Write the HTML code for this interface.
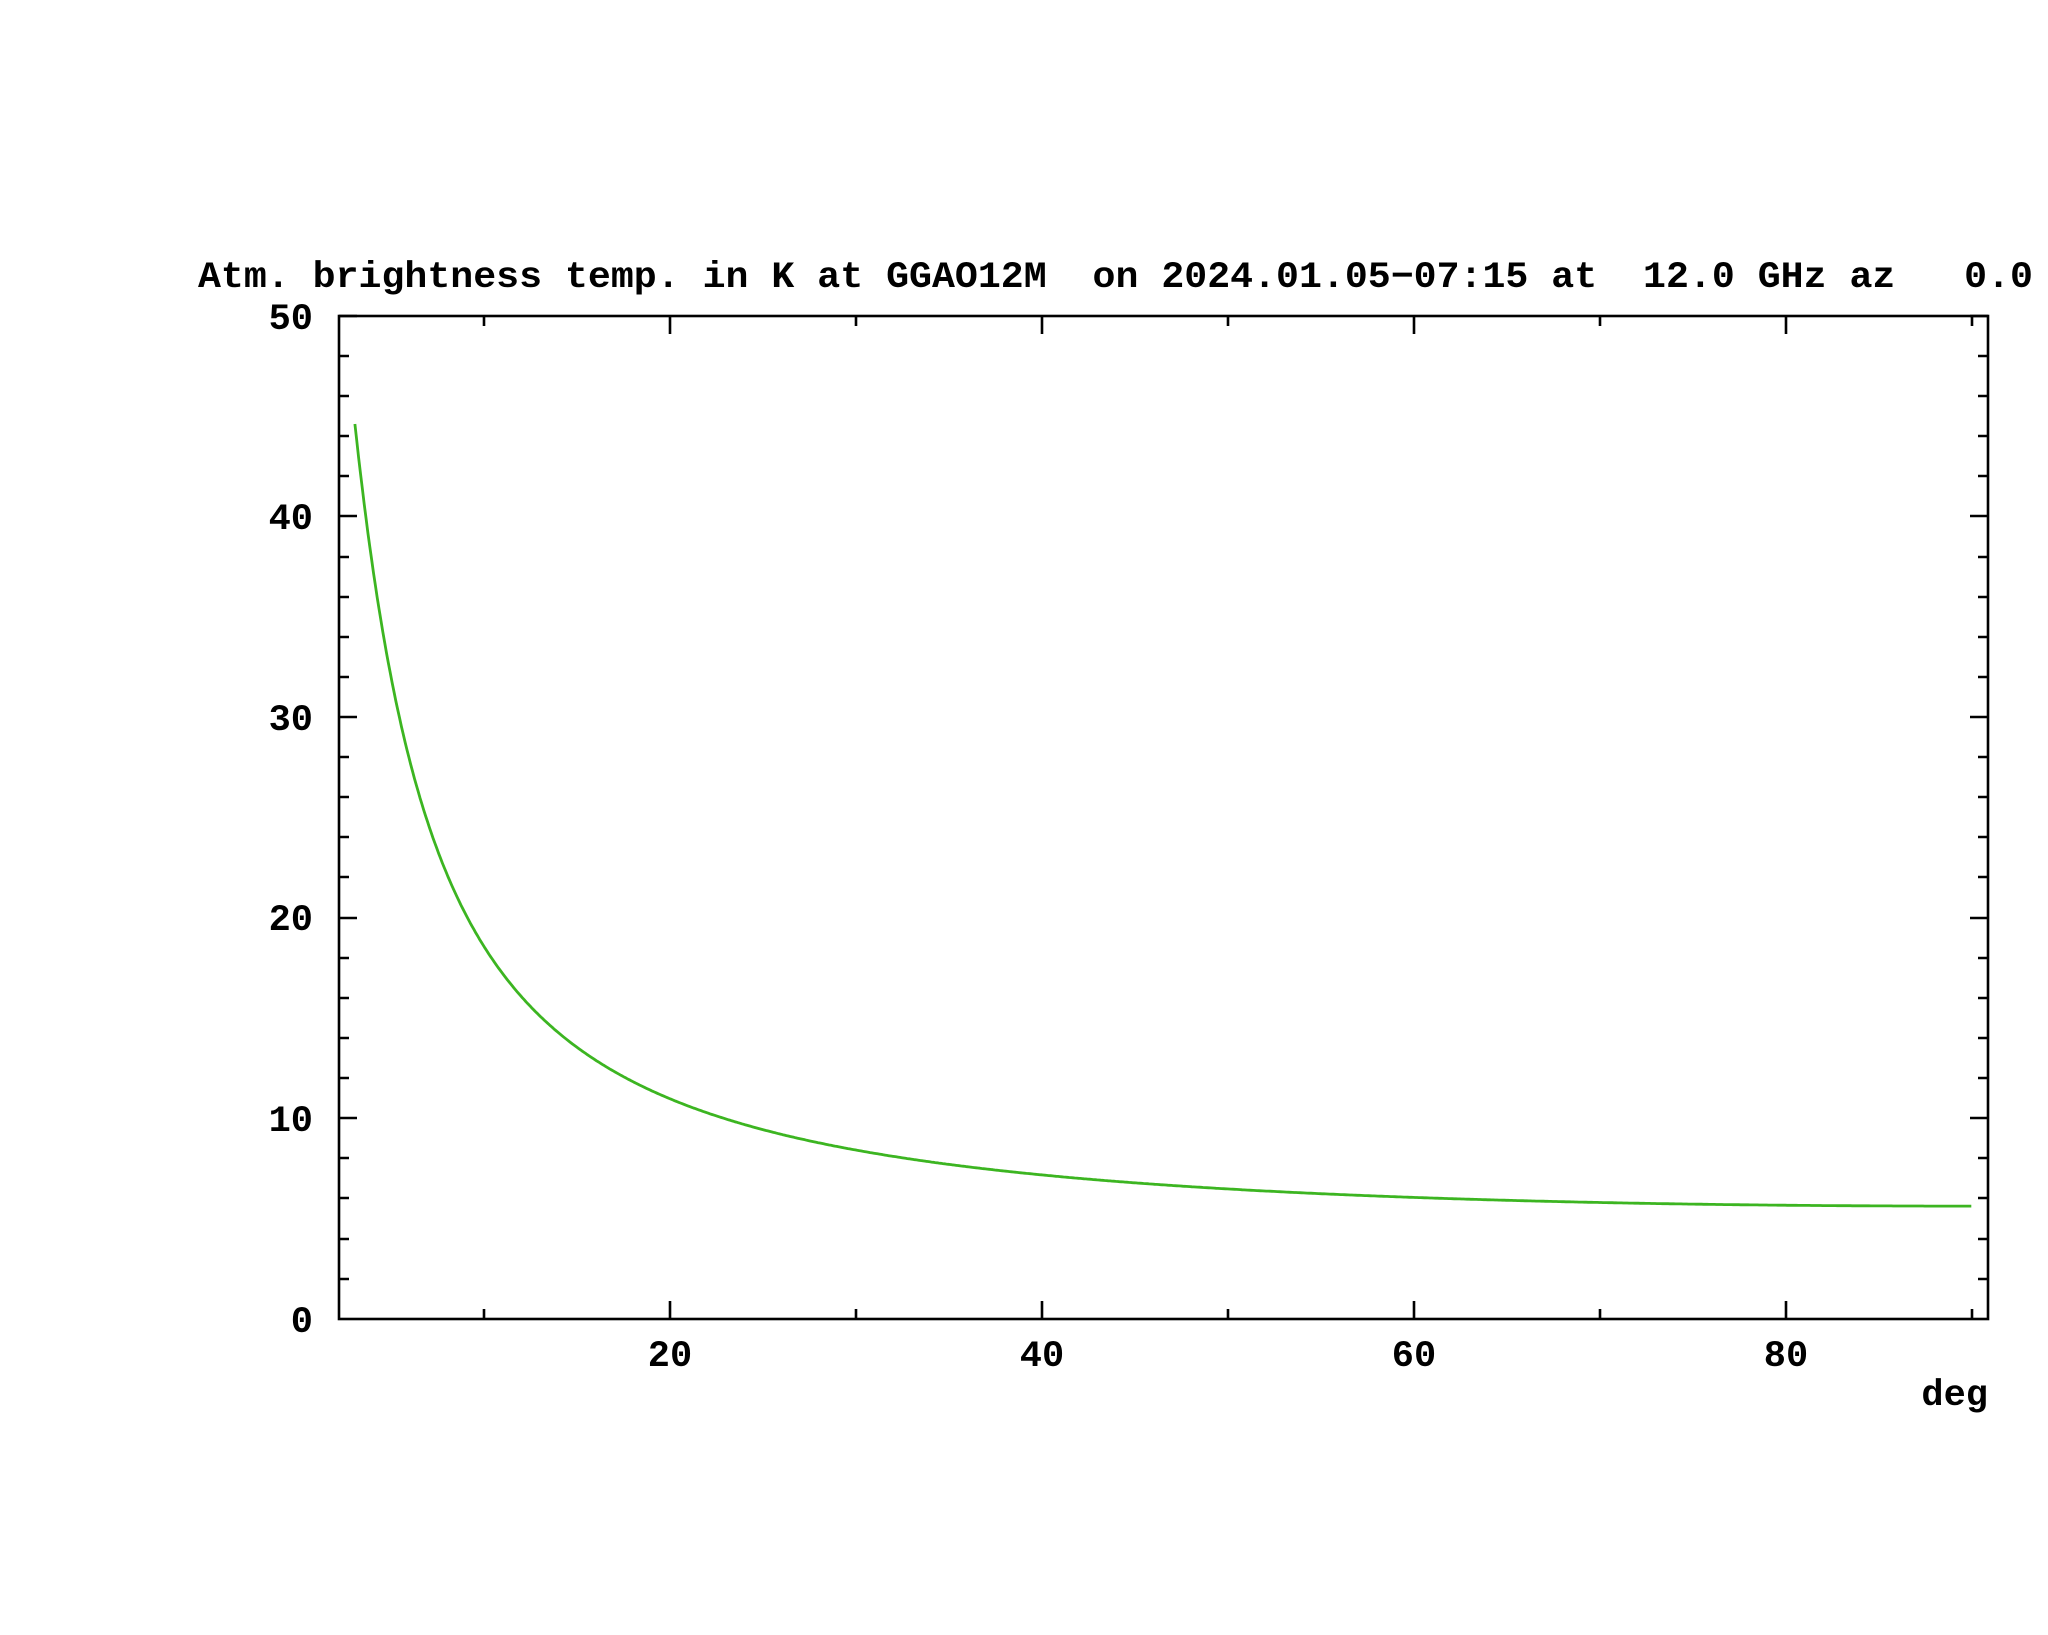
<!DOCTYPE html>
<html><head><meta charset="utf-8"><style>html,body{margin:0;padding:0;background:#fff;}svg{display:block}</style></head>
<body>
<svg width="2048" height="1635" viewBox="0 0 2048 1635" xmlns="http://www.w3.org/2000/svg">
<rect width="2048" height="1635" fill="#fff"/>
<g font-family="'Liberation Mono', monospace" font-size="37" font-weight="bold" fill="#000">
<text x="198" y="287" textLength="1835" lengthAdjust="spacingAndGlyphs" style="white-space:pre" xml:space="preserve">Atm. brightness temp. in K at GGAO12M  on 2024.01.05−07:15 at  12.0 GHz az   0.0</text>
<g text-anchor="end">
<text x="313" y="329">50</text>
<text x="313" y="529">40</text>
<text x="313" y="730">30</text>
<text x="313" y="930">20</text>
<text x="313" y="1131">10</text>
<text x="313" y="1332">0</text>
</g>
<g text-anchor="middle">
<text x="670" y="1366">20</text>
<text x="1042" y="1366">40</text>
<text x="1414" y="1366">60</text>
<text x="1786" y="1366">80</text>
</g>
<text x="1988" y="1405" text-anchor="end">deg</text>
</g>
<g stroke="#000" stroke-width="2.6" fill="none">
<rect x="339" y="316" width="1649" height="1003"/>
<path d="
M339 316h18M339 356h10M339 396h10M339 436h10M339 476h10M339 516h18M339 557h10M339 597h10M339 637h10M339 677h10M339 717h18M339 757h10M339 797h10M339 837h10M339 877h10M339 918h18M339 958h10M339 998h10M339 1038h10M339 1078h10M339 1118h18M339 1158h10M339 1198h10M339 1239h10M339 1279h10
M1988 316h-18M1988 356h-10M1988 396h-10M1988 436h-10M1988 476h-10M1988 516h-18M1988 557h-10M1988 597h-10M1988 637h-10M1988 677h-10M1988 717h-18M1988 757h-10M1988 797h-10M1988 837h-10M1988 877h-10M1988 918h-18M1988 958h-10M1988 998h-10M1988 1038h-10M1988 1078h-10M1988 1118h-18M1988 1158h-10M1988 1198h-10M1988 1239h-10M1988 1279h-10
M484 1319v-10M670 1319v-18M856 1319v-10M1042 1319v-18M1228 1319v-10M1414 1319v-18M1600 1319v-10M1786 1319v-18M1972 1319v-10
M484 316v10M670 316v18M856 316v10M1042 316v18M1228 316v10M1414 316v18M1600 316v10M1786 316v18M1972 316v10"/>
</g>
<polyline id="c" points="355,431 1973,1206" stroke="#3cb521" stroke-width="2.8" fill="none" stroke-linejoin="round"/>
<script>
(function(){var p=[];for(var e=3.06;e<=90.001;e+=0.1){var s=Math.sin(e*Math.PI/180);var X=1/Math.sqrt(s*s+0.00167);var T=2.82+2.81*X;if(T>50)T=50;var x=298+18.6*e;var y=1319-20.06*T;p.push(x.toFixed(1)+","+y.toFixed(1));}document.getElementById("c").setAttribute("points",p.join(" "));})();
</script>
</svg>
</body></html>
